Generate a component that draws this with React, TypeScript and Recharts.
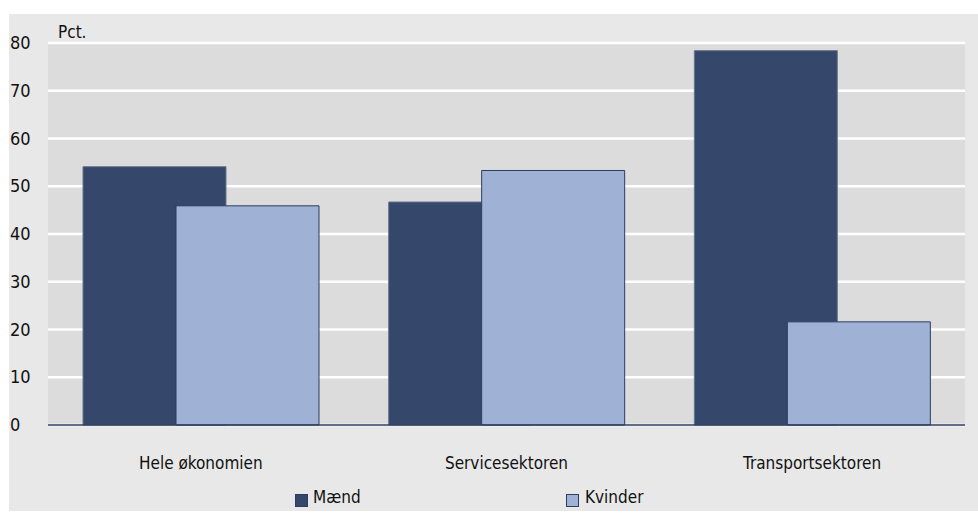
import React from "react";
import { BarChart, Bar, XAxis, YAxis, CartesianGrid, Legend } from "recharts";

const categories = ["Hele økonomien", "Servicesektoren", "Transportsektoren"];
const maend = [54.1, 46.7, 78.4];
const kvinder = [45.9, 53.3, 21.6];
const yTicks = [0, 10, 20, 30, 40, 50, 60, 70, 80];
const seriesNames = ["Mænd", "Kvinder"];

const data = categories.map((c, i) => ({ name: c, maend: maend[i], kvinder: kvinder[i] }));

const FONT = "'DejaVu Sans Condensed', 'Open Sans', sans-serif";
const DARK = "#35476a";
const LIGHT = "#9fb1d5";

const YTick = (props: any) => {
  const { y, payload } = props;
  return (
    <text x={10} y={y} dy={6} textAnchor="start" fontSize={18} fontFamily={FONT} fill="#111">
      {payload.value}
    </text>
  );
};

const XTick = (props: any) => {
  const { x, y, payload } = props;
  return (
    <text x={x} y={y} dy={36} textAnchor="middle" fontSize={17} fontFamily={FONT} fill="#111">
      {payload.value}
    </text>
  );
};

const LegendContent = () => (
  <div style={{ position: "relative", width: 978, height: 24, fontFamily: FONT, fontSize: 17, color: "#111" }}>
    <div style={{ position: "absolute", left: 295, top: 6, width: 11, height: 11, background: DARK, border: "1px solid #2d3d60" }} />
    <div style={{ position: "absolute", left: 313, top: -1 }}>{seriesNames[0]}</div>
    <div style={{ position: "absolute", left: 566, top: 6, width: 11, height: 11, background: LIGHT, border: "1px solid #2d3d60" }} />
    <div style={{ position: "absolute", left: 585, top: -1 }}>{seriesNames[1]}</div>
  </div>
);

export default function App() {
  return (
    <div style={{ position: "absolute", left: 0, top: 0, width: 978, height: 513, background: "#ffffff" }}>
      <div style={{ position: "absolute", left: 9, top: 14, width: 969, height: 497, background: "#e8e8e8" }} />
      <div style={{ position: "absolute", left: 58, top: 22, fontFamily: FONT, fontSize: 17, color: "#111" }}>Pct.</div>
      <div style={{ position: "absolute", left: 0, top: 0 }}>
        <BarChart
          width={978}
          height={513}
          data={data}
          margin={{ top: 43, right: 13, left: 10, bottom: 0 }}
          barSize={143}
          barGap={-50}
        >
          <CartesianGrid vertical={false} stroke="#ffffff" strokeWidth={2.5} fill="#dcdcdc" />
          <XAxis
            dataKey="name"
            tick={<XTick />}
            tickLine={false}
            axisLine={{ stroke: "#2d3d60", strokeWidth: 1.5 }}
            height={64}
            interval={0}
          />
          <YAxis
            domain={[0, 80]}
            ticks={yTicks}
            tick={<YTick />}
            tickLine={false}
            axisLine={false}
            width={38}
          />
          <Legend
            content={<LegendContent />}
            wrapperStyle={{ position: "absolute", left: 0, top: 488, width: 978, height: 24 }}
          />
          <Bar dataKey="maend" name={seriesNames[0]} fill={DARK} stroke="#6b758c" strokeWidth={1} isAnimationActive={false} />
          <Bar dataKey="kvinder" name={seriesNames[1]} fill={LIGHT} stroke="#2d3d60" strokeWidth={1} isAnimationActive={false} />
        </BarChart>
      </div>
    </div>
  );
}
